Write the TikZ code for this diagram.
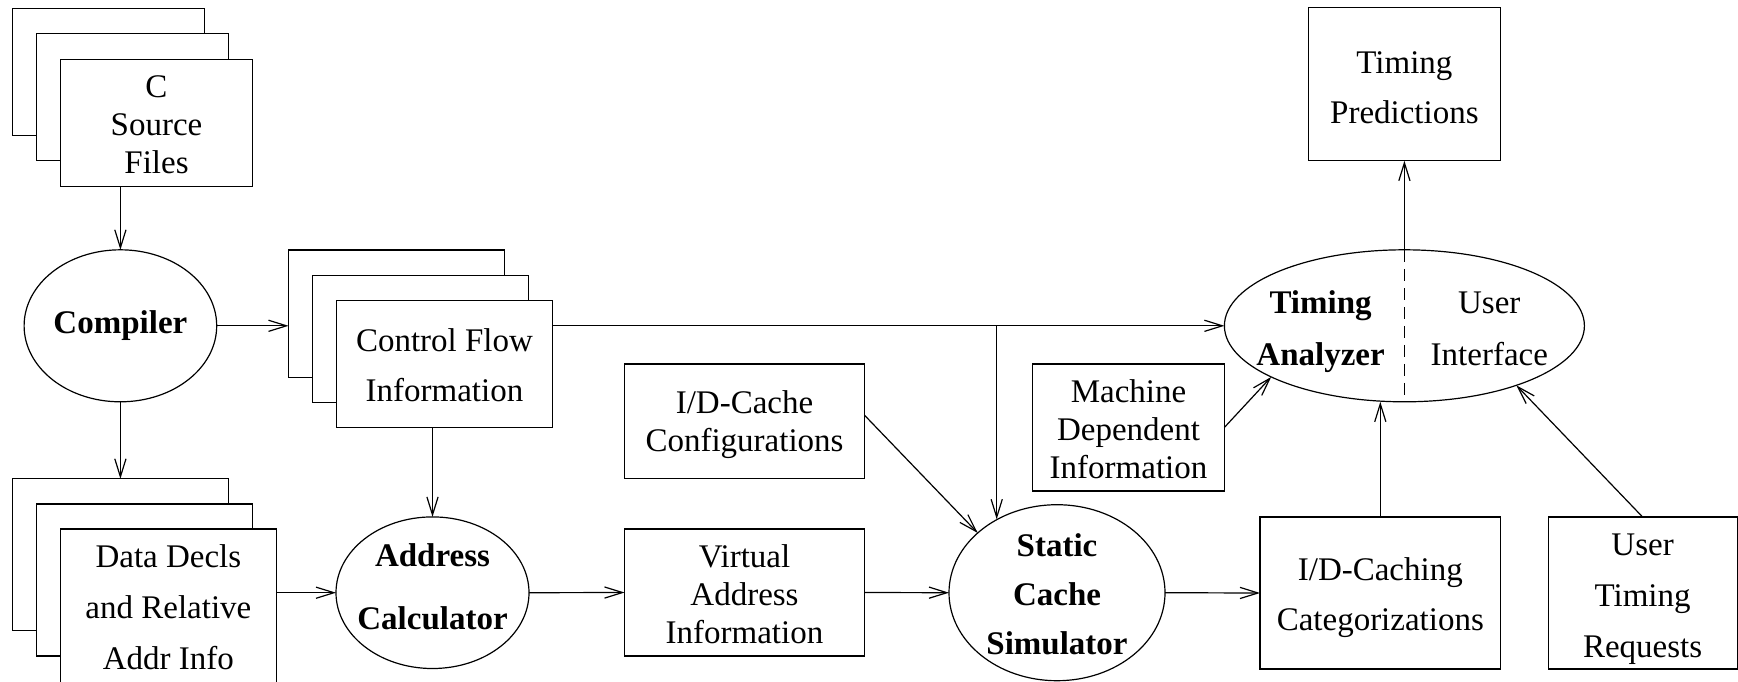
\documentclass[tikz,border=0pt]{standalone}
\usepackage{fontspec}
\setmainfont{Liberation Serif}
\usetikzlibrary{arrows.meta,shapes.geometric,calc}
\newcommand{\myhi}[1]{\rule{0pt}{#1}}
\newcommand{\mylo}[1]{\rule[-#1]{0pt}{#1}}
\begin{document}
\begin{tikzpicture}[x=0.5pt,y=-0.5pt,
  every node/.style={inner sep=0pt, outer sep=0pt, align=center, font=\fontsize{16.5pt}{19pt}\selectfont},
  bf/.style={font=\fontsize{16.5pt}{19pt}\selectfont\bfseries},
  box/.style={draw, fill=white, rectangle},
  oval/.style={draw, fill=white, ellipse, inner xsep=-10pt, inner ysep=-5pt},
  arr/.style={-{Straight Barb[length=9pt,width=5.6pt]}},
  line width=0.6pt]
\useasboundingbox (0,0) rectangle (1738,681);

% C source files stack
\node[box, minimum width=96pt, minimum height=63.5pt] (src3) at (108.5,71.6) {};
\node[box, minimum width=96pt, minimum height=63.5pt] (src2) at (132.5,97.1) {};
\node[box, minimum width=96pt, minimum height=63.5pt] (src1) at (156.5,122.7) {\myhi{13.2pt}C\\Source\\Files};

% Compiler
\node[oval, bf, minimum width=96.3pt, minimum height=76pt] (comp) at (120.4,325.8) {Compiler};

% Control flow stack
\node[box, minimum width=108pt, minimum height=63.6pt] (cf3) at (396.5,313.5) {};
\node[box, minimum width=108pt, minimum height=63.6pt] (cf2) at (420.5,338.7) {};
\node[box, minimum width=108pt, minimum height=63.6pt] (cf1) at (444.5,363.9) {\myhi{13pt}Control Flow\\[6pt]Information};

% Data decls stack
\node[box, minimum width=108pt, minimum height=76pt] (dat3) at (120.4,554.8) {};
\node[box, minimum width=108pt, minimum height=76pt] (dat2) at (144.5,580) {};
\node[box, minimum width=108pt, minimum height=77pt] (dat1) at (168.4,606) {\myhi{12.3pt}Data Decls\\[6.5pt]and Relative\\[6.5pt]Addr Info};

% Address calculator
\node[oval, bf, minimum width=96.5pt, minimum height=75.8pt] (addr) at (432.5,592.7) {Address\\[12.5pt]Calculator\mylo{5.7pt}};

% I/D-cache configurations and virtual address
\node[box, minimum width=120pt, minimum height=57.2pt] (cfg) at (744.5,421.2) {\myhi{15.2pt}I/D-Cache\\Configurations};
\node[box, minimum width=120pt, minimum height=63.5pt] (virt) at (744.5,592.5) {\myhi{13pt}Virtual\\Address\\Information};

% Static cache simulator
\node[oval, bf, minimum width=108pt, minimum height=88pt] (sc) at (1057,592.7) {\myhi{13.3pt}Static\\[5.5pt]Cache\\[5.5pt]Simulator};

% Machine dependent information
\node[box, minimum width=95.8pt, minimum height=63.5pt] (mach) at (1128.5,427.5) {\myhi{13.5pt}Machine\\Dependent\\Information};

% Timing analyzer
\node[oval, minimum width=180pt, minimum height=76pt] (ta) at (1404.4,325.8) {};
\node[bf] (tal) at (1320.6,331.5) {Timing\\[7pt]Analyzer};
\node (tar) at (1489.3,328.7) {User\\[7pt]Interface};

% Timing predictions
\node[box, minimum width=96.2pt, minimum height=76.5pt] (pred) at (1404.4,84.3) {\myhi{14.2pt}Timing\\[6pt]Predictions};

% Caching categorizations
\node[box, minimum width=120.3pt, minimum height=76pt] (cach) at (1380.3,593) {\myhi{15.7pt}I/D-Caching\\[6pt]Categorizations};

% User timing requests
\node[box, minimum width=94.5pt, minimum height=76pt] (req) at (1642.6,593) {\myhi{17.4pt}User\\[6.5pt]Timing\\[6.5pt]Requests};

% branch point
\coordinate (br) at (996.7,325.8);

% connectors
\draw[arr] (comp.north |- src1.south) -- (comp.north);
\draw[arr] (comp.south) -- (dat3.north);
\draw[arr] (comp.east) -- (comp.east -| cf3.west);
\draw[arr] (comp.east -| cf1.east) -- (ta.west);
\draw[arr] (br) -- (br |- sc.129.6);
\draw[arr] ($(cfg.east)+(0,-6)$) -- (sc.143);
\draw[arr] (mach.east) -- (ta.201.5);
\draw[arr] (cach.north) -- (cach.north |- ta.south);
\draw[arr] (req.north) -- (ta.332);
\draw[arr] (addr.north |- cf1.south) -- (addr.north);
\draw[arr] (dat1.east |- addr.west) -- (addr.west);
\draw[arr] (addr.east) -- (virt.west);
\draw[arr] (virt.east) -- (sc.west);
\draw[arr] (sc.east) -- (cach.west);
\draw[arr] (ta.north) -- (pred.south);
\draw[dash pattern=on 6pt off 3.5pt] (ta.north) -- (ta.south);
\end{tikzpicture}
\end{document}
